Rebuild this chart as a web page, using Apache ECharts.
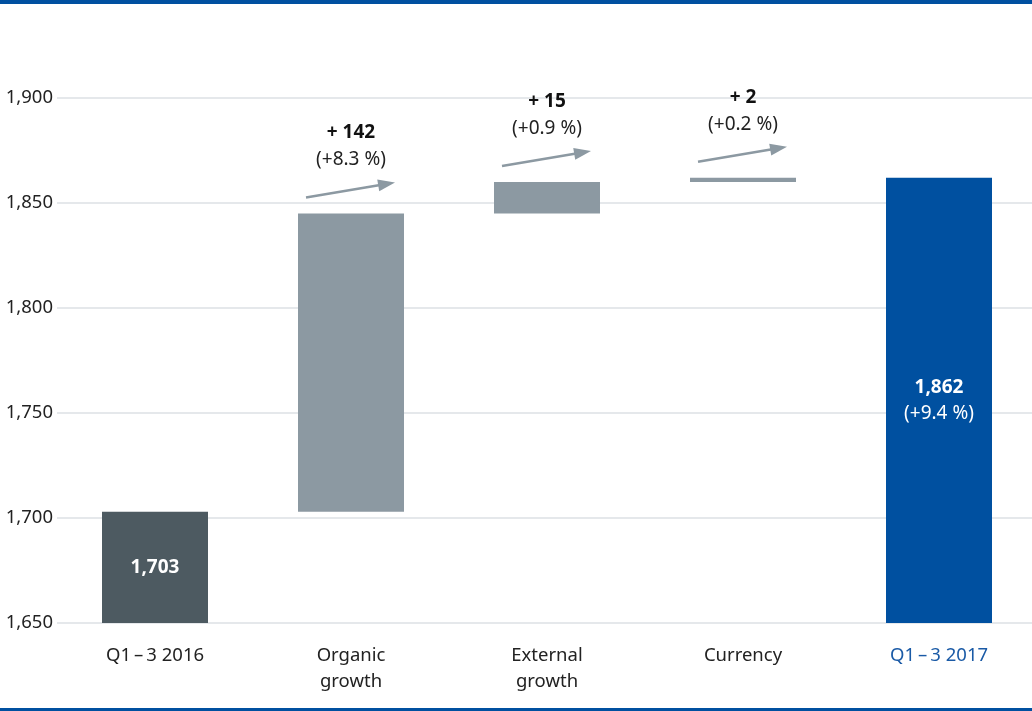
<!DOCTYPE html>
<html>
<head>
<meta charset="utf-8">
<script src="https://cdn.jsdelivr.net/npm/echarts@6/dist/echarts.min.js"></script>
<style>html,body{margin:0;padding:0;background:#fff}#c{width:1032px;height:711px}</style>
</head>
<body>
<div id="c"></div>
<script>
const categories = ['Q1\u2009\u2013\u20093 2016', 'Organic\ngrowth', 'External\ngrowth', 'Currency', 'Q1\u2009\u2013\u20093 2017'];
const values = [1703, 142, 15, 2, 1862];
const isTotal = [true, false, false, false, true];
const valueLabels = ['1,703', '+ 142', '+ 15', '+ 2', '1,862'];
const pctLabels = ['', '(+8.3 %)', '(+0.9 %)', '(+0.2 %)', '(+9.4 %)'];
const yTicks = [1650, 1700, 1750, 1800, 1850, 1900];

const FONT = 'Noto Sans';
const colors = ['#4d5a61', '#8c99a2', '#8c99a2', '#8c99a2', '#0050a0'];

// waterfall base
const base = [];
let run = 0;
values.forEach((v, i) => {
  if (isTotal[i]) { base.push(0); run = v; }
  else { base.push(run); run += v; }
});
const ends = values.map((v, i) => isTotal[i] ? v : base[i] + v);

const chart = echarts.init(document.getElementById('c'));
chart.setOption({
  animation: false,
  textStyle: { fontFamily: FONT },
  grid: { left: 57, top: 98, width: 980, height: 525, outerBoundsMode: 'none', containLabel: false },
  graphic: [
    { type: 'rect', shape: { x: 0, y: 0, width: 1032, height: 4 }, style: { fill: '#0050a0' } },
    { type: 'rect', shape: { x: 0, y: 708, width: 1032, height: 3 }, style: { fill: '#0050a0' } }
  ],
  xAxis: {
    type: 'category',
    data: categories,
    axisLine: { show: false },
    axisTick: { show: false },
    axisLabel: {
      margin: 20,
      fontSize: 18.5,
      lineHeight: 26,
      fontFamily: FONT,
      color: (v, i) => i === categories.length - 1 ? '#1a5aa6' : '#222'
    }
  },
  yAxis: {
    type: 'value',
    min: yTicks[0],
    max: yTicks[yTicks.length - 1],
    interval: 50,
    axisLine: { show: false },
    axisTick: { show: false },
    axisLabel: {
      margin: 4,
      fontSize: 18.5,
      fontFamily: FONT,
      color: '#222',
      formatter: v => v.toLocaleString('en-US')
    },
    splitLine: { lineStyle: { color: '#dde1e5', width: 1.5 } }
  },
  series: [
    {
      type: 'bar',
      stack: 'w',
      barWidth: 106,
      itemStyle: { color: 'transparent' },
      data: base,
      silent: true
    },
    {
      type: 'bar',
      stack: 'w',
      barWidth: 106,
      data: values.map((v, i) => ({
        value: v,
        itemStyle: { color: colors[i] },
        label: isTotal[i] ? {
          show: true,
          position: 'inside',
          formatter: pctLabels[i] ? '{b|' + valueLabels[i] + '}\n{n|' + pctLabels[i] + '}' : '{b|' + valueLabels[i] + '}',
          rich: {
            b: { fontSize: 19, fontWeight: 'bold', color: '#fff', lineHeight: 26, fontFamily: FONT },
            n: { fontSize: 19, color: '#fff', lineHeight: 26, fontFamily: FONT }
          }
        } : {
          show: true,
          position: 'top',
          distance: 40,
          formatter: '{b|' + valueLabels[i] + '}\n{n|' + pctLabels[i] + '}',
          rich: {
            b: { fontSize: 19, fontWeight: 'bold', color: '#111', lineHeight: 27, fontFamily: FONT },
            n: { fontSize: 19, color: '#222', lineHeight: 27, fontFamily: FONT }
          }
        }
      }))
    },
    {
      type: 'custom',
      silent: true,
      data: values.map((v, i) => isTotal[i] ? null : [i, ends[i]]).filter(d => d),
      renderItem: function (params, api) {
        const p = api.coord([api.value(0), api.value(1)]);
        const x1 = p[0] - 45, y1 = p[1] - 16;
        const x2 = p[0] + 44, y2 = p[1] - 31;
        const dx = x2 - x1, dy = y2 - y1;
        const len = Math.sqrt(dx * dx + dy * dy);
        const ux = dx / len, uy = dy / len;
        const hl = 17, hw = 6;
        const bx = x2 - ux * hl, by = y2 - uy * hl;
        return {
          type: 'group',
          children: [
            { type: 'line', shape: { x1: x1, y1: y1, x2: bx + ux * 2, y2: by + uy * 2 }, style: { stroke: '#8c99a2', lineWidth: 2.5 } },
            { type: 'polygon', shape: { points: [[x2, y2], [bx - uy * hw, by + ux * hw], [bx + uy * hw, by - ux * hw]] }, style: { fill: '#8c99a2' } }
          ]
        };
      }
    }
  ]
});
</script>
</body>
</html>
